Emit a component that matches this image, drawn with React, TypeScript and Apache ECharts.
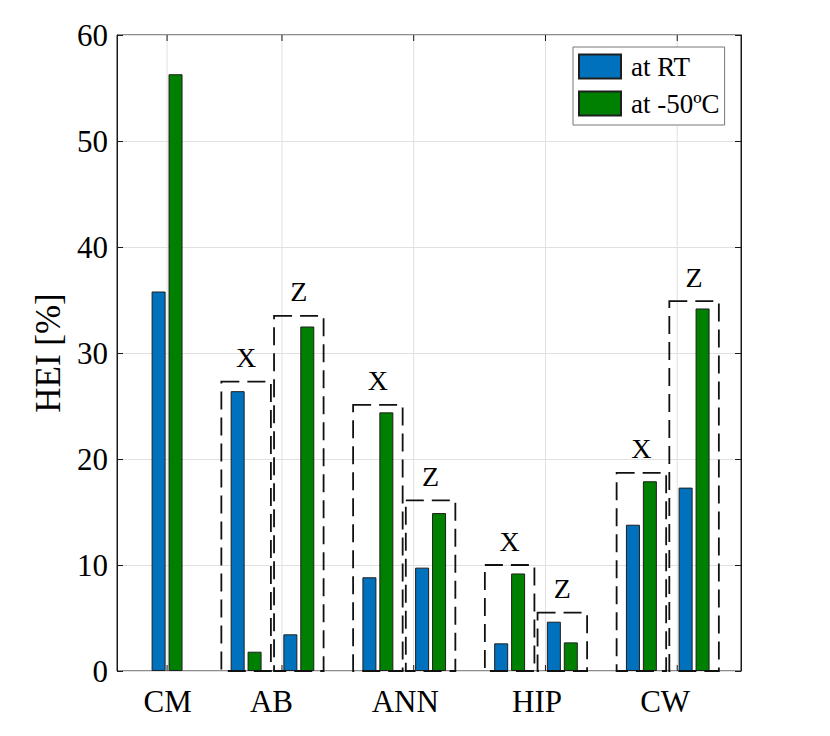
import React, { useEffect, useRef } from "react";
import * as echarts from "echarts";

// Sub-group centres (x position in axis units) : CM, AB-X, AB-Z, ANN-X, ANN-Z, HIP-X, HIP-Z, CW-X, CW-Z
const groupPos = [1, 2.5, 3.5, 5, 6, 7.5, 8.5, 10, 11];
const hasBox = [false, true, true, true, true, true, true, true, true];
const boxLabels = ["", "X", "Z", "X", "Z", "X", "Z", "X", "Z"];
const boxTop = [0, 27.3, 33.5, 25.1, 16.1, 10.0, 5.5, 18.7, 34.9];

const rtValues = [35.8, 26.4, 3.46, 8.84, 9.75, 2.61, 4.65, 13.8, 17.3];
const coldValues = [56.3, 1.82, 32.5, 24.4, 14.9, 9.2, 2.7, 17.9, 34.2];

const categories = ["CM", "AB", "ANN", "HIP", "CW"];
const categoryLabelPos = [1.01, 2.98, 5.52, 8.02, 10.45];
const xGridPos = [1, 3.18, 5.68, 8.18, 10.68];

const yTicks = [0, 10, 20, 30, 40, 50, 60];

const SERIF = "'Liberation Serif', 'Times New Roman', serif";
const AXIS_COLOR = "#1a1a1a";
const GRID_COLOR = "#e0e0e0";

export default function App() {
  const ref = useRef<HTMLDivElement>(null);

  useEffect(() => {
    document.body.style.margin = "0";
    if (!ref.current) return;
    const chart = echarts.init(ref.current, undefined, { renderer: "svg" });

    const halfBox = 0.47;

    const option: any = {
      animation: false,
      backgroundColor: "#ffffff",
      grid: {
        left: 117,
        right: 89,
        top: 35,
        bottom: 65,
        show: true,
        borderColor: AXIS_COLOR,
        borderWidth: 1,
        backgroundColor: "transparent",
      },
      legend: {
        data: ["at RT", "at -50ºC"],
        orient: "vertical",
        left: 573,
        top: 47,
        itemWidth: 42,
        itemHeight: 24,
        itemGap: 10,
        padding: [6, 5, 8, 5],
        backgroundColor: "#ffffff",
        borderColor: "#777777",
        borderWidth: 1,
        borderRadius: 0,
        icon: "rect",
        textStyle: {
          fontFamily: SERIF,
          fontSize: 27,
          color: "#000000",
          lineHeight: 24,
          padding: [0, 0, 0, 5],
        },
      },
      xAxis: {
        type: "value",
        min: 0.05,
        max: 11.89,
        axisLine: { show: false },
        axisTick: { show: false },
        axisLabel: { show: false },
        splitLine: { show: false },
      },
      yAxis: [
        {
          type: "value",
          min: 0,
          max: 60,
          interval: 10,
          name: "HEI [%]",
          nameLocation: "middle",
          nameGap: 38,
          nameTextStyle: { fontFamily: SERIF, fontSize: 35, color: "#000000" },
          axisLine: { show: true, lineStyle: { color: AXIS_COLOR, width: 1 } },
          axisTick: { show: true, inside: true, length: 6, lineStyle: { color: AXIS_COLOR } },
          axisLabel: {
            fontFamily: SERIF,
            fontSize: 31,
            color: "#000000",
            margin: 9,
            formatter: (v: number) => (yTicks.includes(v) ? String(v) : ""),
          },
          splitLine: { show: true, lineStyle: { color: GRID_COLOR, width: 1 } },
        },
        {
          type: "value",
          position: "right",
          min: 0,
          max: 60,
          interval: 10,
          axisLine: { show: true, lineStyle: { color: AXIS_COLOR, width: 1 } },
          axisTick: { show: true, inside: true, length: 6, lineStyle: { color: AXIS_COLOR } },
          axisLabel: { show: false },
          splitLine: { show: false },
        },
      ],
      series: [
        {
          // vertical grid lines and x ticks
          type: "custom",
          z: 1,
          silent: true,
          clip: false,
          data: xGridPos.map((x) => [x]),
          renderItem: (params: any, api: any) => {
            const x = api.value(0);
            const bottom = api.coord([x, 0]);
            const top = api.coord([x, 60]);
            return {
              type: "group",
              children: [
                {
                  type: "line",
                  shape: { x1: bottom[0], y1: bottom[1], x2: top[0], y2: top[1] },
                  style: { stroke: GRID_COLOR, lineWidth: 1 },
                },
                {
                  type: "line",
                  shape: { x1: top[0], y1: top[1], x2: top[0], y2: top[1] + 6 },
                  style: { stroke: AXIS_COLOR, lineWidth: 1 },
                },
                {
                  type: "line",
                  shape: { x1: bottom[0], y1: bottom[1], x2: bottom[0], y2: bottom[1] - 6 },
                  style: { stroke: AXIS_COLOR, lineWidth: 1 },
                },
              ],
            };
          },
        },
        {
          name: "at RT",
          type: "bar",
          z: 3,
          barWidth: 14,
          barGap: "21%",
          data: groupPos.map((x, i) => [x, rtValues[i]]),
          itemStyle: { color: "#0072BD", borderColor: "#1e1e1e", borderWidth: 1 },
        },
        {
          name: "at -50ºC",
          type: "bar",
          z: 3,
          barWidth: 14,
          barGap: "21%",
          data: groupPos.map((x, i) => [x, coldValues[i]]),
          itemStyle: { color: "#008000", borderColor: "#1e1e1e", borderWidth: 1 },
        },
        {
          // dashed boxes with X / Z labels
          type: "custom",
          z: 4,
          silent: true,
          clip: false,
          data: groupPos
            .map((x, i) => [x, boxTop[i], i])
            .filter((d) => hasBox[d[2] as number]),
          renderItem: (params: any, api: any) => {
            const c = api.value(0);
            const top = api.value(1);
            const idx = api.value(2);
            const tl = api.coord([c - halfBox, top]);
            const br = api.coord([c + halfBox, 0]);
            return {
              type: "group",
              children: [
                {
                  type: "rect",
                  shape: { x: tl[0], y: tl[1], width: br[0] - tl[0], height: br[1] - tl[1] },
                  style: {
                    fill: "none",
                    stroke: "#111111",
                    lineWidth: 1.8,
                    lineDash: [18, 8],
                  },
                },
                {
                  type: "text",
                  x: (tl[0] + br[0]) / 2,
                  y: tl[1] - 24,
                  style: {
                    text: boxLabels[idx],
                    fontFamily: SERIF,
                    fontSize: 28,
                    fill: "#000000",
                    align: "center",
                    verticalAlign: "middle",
                  },
                },
              ],
            };
          },
        },
        {
          // category labels under the axis
          type: "custom",
          z: 4,
          silent: true,
          clip: false,
          data: categoryLabelPos.map((x, i) => [x, i]),
          renderItem: (params: any, api: any) => {
            const x = api.value(0);
            const i = api.value(1);
            const p = api.coord([x, 0]);
            return {
              type: "text",
              x: p[0],
              y: p[1] + 30,
              style: {
                text: categories[i],
                fontFamily: SERIF,
                fontSize: 31,
                fill: "#000000",
                align: "center",
                verticalAlign: "middle",
              },
            };
          },
        },
      ],
    };

    chart.setOption(option);
    return () => {
      chart.dispose();
    };
  }, []);

  return <div ref={ref} style={{ width: 830, height: 736 }} />;
}
